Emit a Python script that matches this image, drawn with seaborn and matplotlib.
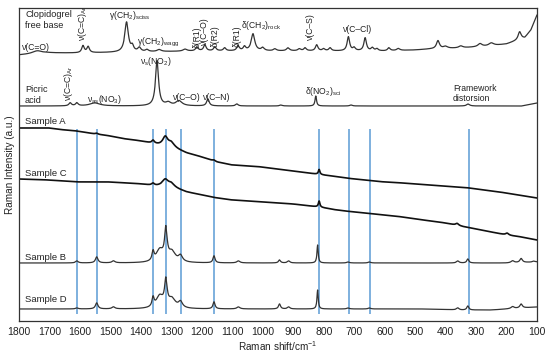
import numpy as np
import pandas as pd
import matplotlib
matplotlib.use("Agg")
import matplotlib.pyplot as plt
import seaborn as sns

# ---------------- data ----------------
# baselines: anchor wavenumbers and intensity levels (arbitrary units)
clop_base_w = [1800, 1700, 1600, 1400, 1200, 1000, 800, 600, 500, 450, 350, 300, 250, 200, 170, 140, 120, 100]
clop_base_y = [266, 268, 268, 269, 270, 270, 270, 270, 271, 272, 273, 274, 275, 277, 280, 283, 291, 306]
clop_peaks_c = [1740, 1590, 1573, 1447, 1428, 1405, 1380, 1340, 1255, 1216, 1190, 1157, 1125, 1081, 1060, 1032,
                1000, 960, 917, 880, 861, 823, 800, 779, 719, 700, 664, 640, 625, 586, 555, 425, 400, 350, 287, 250, 157]
clop_peaks_h = [3, 7, 6, 30, 5, 4, 2, 2, 2, 4, 6, 4, 3, 5, 4, 17,
                3, 2, 3, 2, 3, 6, 2, 3, 14, 3, 13, 3, 2, 3, 2, 8, 2, 2, 3, 3, 8]
clop_peaks_w = [20, 5, 5, 7, 5, 6, 6, 8, 8, 5, 5, 5, 5, 5, 5, 7,
                6, 6, 6, 6, 5, 5, 5, 5, 5, 5, 5, 5, 5, 5, 6, 6, 8, 8, 8, 10, 6]

pic_base_w = [1800, 1000, 300, 150, 100]
pic_base_y = [215, 215, 215, 215, 218]
pic_peaks_c = [1632, 1610, 1551, 1347, 1310, 1275, 1180, 1085, 940, 826, 710, 326]
pic_peaks_h = [3, 3, 3, 45, 3, 5, 7, 2, 1, 10, 1, 2]
pic_peaks_w = [5, 5, 20, 6, 10, 12, 5, 5, 5, 3, 5, 6]

a_base_w = [1800, 1750, 1700, 1650, 1610, 1550, 1500, 1450, 1400, 1370, 1340, 1300, 1250, 1200, 1150, 1100,
            1000, 900, 800, 700, 600, 540, 450, 320, 200, 100]
a_base_y = [193, 193, 193, 191, 190, 187, 185, 182, 180, 178, 176, 174, 168, 164, 159, 156,
            154, 150, 146, 142, 139, 138, 136, 133, 128, 123]
a_peaks_c = [1545, 1360, 1320, 1300, 1160, 815]
a_peaks_h = [1, 3, 9, 4, 1, 5]
a_peaks_w = [5, 5, 10, 12, 5, 3]

c_base_w = [1800, 1700, 1600, 1500, 1400, 1350, 1300, 1250, 1200, 1150, 1100, 1000, 900, 815, 757, 700,
            600, 540, 450, 400, 320, 250, 200, 150, 100]
c_base_y = [142, 141, 139, 139, 137, 135, 134, 129, 126, 123, 121, 119, 117, 114, 111, 109,
            106, 104, 100, 98, 93, 89, 86, 84, 81]
c_peaks_c = [1360, 1320, 1300, 815, 362, 198]
c_peaks_h = [2, 7, 3, 6, 2, 2]
c_peaks_w = [5, 12, 12, 3, 6, 6]

b_base_w = [1800, 1000, 400, 200, 100]
b_base_y = [58, 58, 58, 58, 59]
b_peaks_c = [1610, 1545, 1490, 1360, 1338, 1318, 1298, 1270, 1160, 1080, 945, 915, 820, 720, 650, 360, 327, 180, 152, 110]
b_peaks_h = [2, 6, 2, 9, 12, 30, 10, 6, 7, 2, 3, 2, 18, 1, 1, 2, 4, 2, 4, 1]
b_peaks_w = [5, 5, 6, 4, 14, 5, 14, 8, 4, 6, 4, 5, 2.5, 5, 5, 5, 4, 6, 5, 5]

d_base_w = [1800, 1000, 450, 350, 250, 200, 100]
d_base_y = [12, 12, 12, 11, 11, 12, 14]
d_peaks_c = [1610, 1545, 1490, 1360, 1338, 1318, 1298, 1270, 1160, 1080, 945, 915, 820, 720, 650, 360, 327, 180, 152]
d_peaks_h = [1, 6, 2, 9, 12, 25, 9, 6, 7, 2, 5, 2, 19, 1, 1, 2, 4, 2, 4]
d_peaks_w = [5, 5, 6, 4, 14, 5, 14, 8, 4, 6, 4, 5, 2.5, 5, 5, 5, 4, 6, 5]

marker_lines = [1610, 1545, 1360, 1318, 1267, 1159, 814, 718, 648, 322]
xticks = list(range(1800, 99, -100))

# ---------------- build spectra ----------------
wn = np.arange(100, 1801, 1.0)

def spectrum(bw, by, pc, ph, pw):
    y = np.interp(wn, bw[::-1], by[::-1])
    for c, h, w in zip(pc, ph, pw):
        y = y + h * w**2 / ((wn - c)**2 + w**2)
    return y

series = {
    "clop": spectrum(clop_base_w, clop_base_y, clop_peaks_c, clop_peaks_h, clop_peaks_w),
    "pic": spectrum(pic_base_w, pic_base_y, pic_peaks_c, pic_peaks_h, pic_peaks_w),
    "A": spectrum(a_base_w, a_base_y, a_peaks_c, a_peaks_h, a_peaks_w),
    "C": spectrum(c_base_w, c_base_y, c_peaks_c, c_peaks_h, c_peaks_w),
    "B": spectrum(b_base_w, b_base_y, b_peaks_c, b_peaks_h, b_peaks_w),
    "D": spectrum(d_base_w, d_base_y, d_peaks_c, d_peaks_h, d_peaks_w),
}

# ---------------- plot ----------------
sns.set_theme(style="white")
plt.rcParams["font.family"] = ["Liberation Sans", "DejaVu Sans"]
plt.rcParams["mathtext.fontset"] = "dejavusans"

fig = plt.figure(figsize=(5.5, 3.55), dpi=100)
ax = fig.add_axes([19 / 550, 34 / 355, 518 / 550, 313 / 355])

tc = "#222222"
ax.vlines(marker_lines, 7, 192, color="#5B9BD5", lw=1.1, zorder=1)

styles = {"clop": ("#333333", 0.9), "pic": ("#333333", 0.9), "A": ("#111111", 1.2),
          "C": ("#111111", 1.2), "B": ("#333333", 0.9), "D": ("#333333", 0.9)}
for key, yv in series.items():
    df = pd.DataFrame({"w": wn, "y": yv})
    col, lw = styles[key]
    sns.lineplot(data=df, x="w", y="y", ax=ax, color=col, lw=lw, estimator=None, sort=False, zorder=2)

ax.set_xlim(1800, 100)
ax.set_ylim(0, 313)
ax.set_xticks(xticks)
ax.set_xticklabels([str(t) for t in xticks], fontsize=7.5, color=tc)
ax.set_yticks([])
ax.tick_params(axis="x", length=0, pad=4)
for s in ax.spines.values():
    s.set_color("#333333")
    s.set_linewidth(0.9)
ax.set_xlabel(r"Raman shift/cm$^{\mathregular{-1}}$", fontsize=7.2, color=tc, labelpad=2)
ax.set_ylabel("Raman Intensity (a.u.)", fontsize=7.2, color=tc, labelpad=3)

fs = 6.2
def T(x, y, s, **kw):
    kw.setdefault("fontsize", fs)
    kw.setdefault("color", tc)
    ax.text(x, y, s, **kw)

M = r"$_\mathregular{%s}$"
T(1780, 311, "Clopidogrel\nfree base", ha="left", va="top", fontsize=6.6, linespacing=1.35)
T(1790, 274, "ν(C=O)", ha="left", va="center")
T(1593, 280, "ν(C=C)" + M % "Ar", ha="center", va="bottom", rotation=90)
T(1436, 306, "γ(CH" + M % "2" + ")" + M % "sciss", ha="center", va="center")
T(1413, 279, "γ(CH" + M % "2" + ")" + M % "wagg", ha="left", va="center")
T(1216, 273, "δ(R1)", ha="center", va="bottom", rotation=90)
T(1190, 276, "ν(C–O)", ha="center", va="bottom", rotation=90)
T(1157, 274, "δ(R2)", ha="center", va="bottom", rotation=90)
T(1085, 274, "δ(R1)", ha="center", va="bottom", rotation=90)
T(1072, 295, "δ(CH" + M % "2" + ")" + M % "rock", ha="left", va="center")
T(845, 281, "ν(C–S)", ha="center", va="bottom", rotation=90)
T(737, 292, "ν(C–Cl)", ha="left", va="center")

T(1780, 236, "Picric\nacid", ha="left", va="top", fontsize=6.6, linespacing=1.35)
T(1636, 220, "ν(C=C)" + M % "Ar", ha="center", va="bottom", rotation=90)
T(1577, 222, "ν" + M % "as" + "(NO" + M % "3" + ")", ha="left", va="center")
T(1403, 259, "ν" + M % "s" + "(NO" + M % "2" + ")", ha="left", va="center")
T(1295, 224, "ν(C–O)", ha="left", va="center")
T(1196, 224, "ν(C–N)", ha="left", va="center")
T(861, 230, "δ(NO" + M % "2" + ")" + M % "sci", ha="left", va="center")
T(376, 237, "Framework\ndistorsion", ha="left", va="top", linespacing=1.2)

T(1780, 199, "Sample A", ha="left", va="center", fontsize=6.8)
T(1780, 147, "Sample C", ha="left", va="center", fontsize=6.8)
T(1780, 63, "Sample B", ha="left", va="center", fontsize=6.8)
T(1780, 22, "Sample D", ha="left", va="center", fontsize=6.8)

fig.savefig("out.png", dpi=100)
